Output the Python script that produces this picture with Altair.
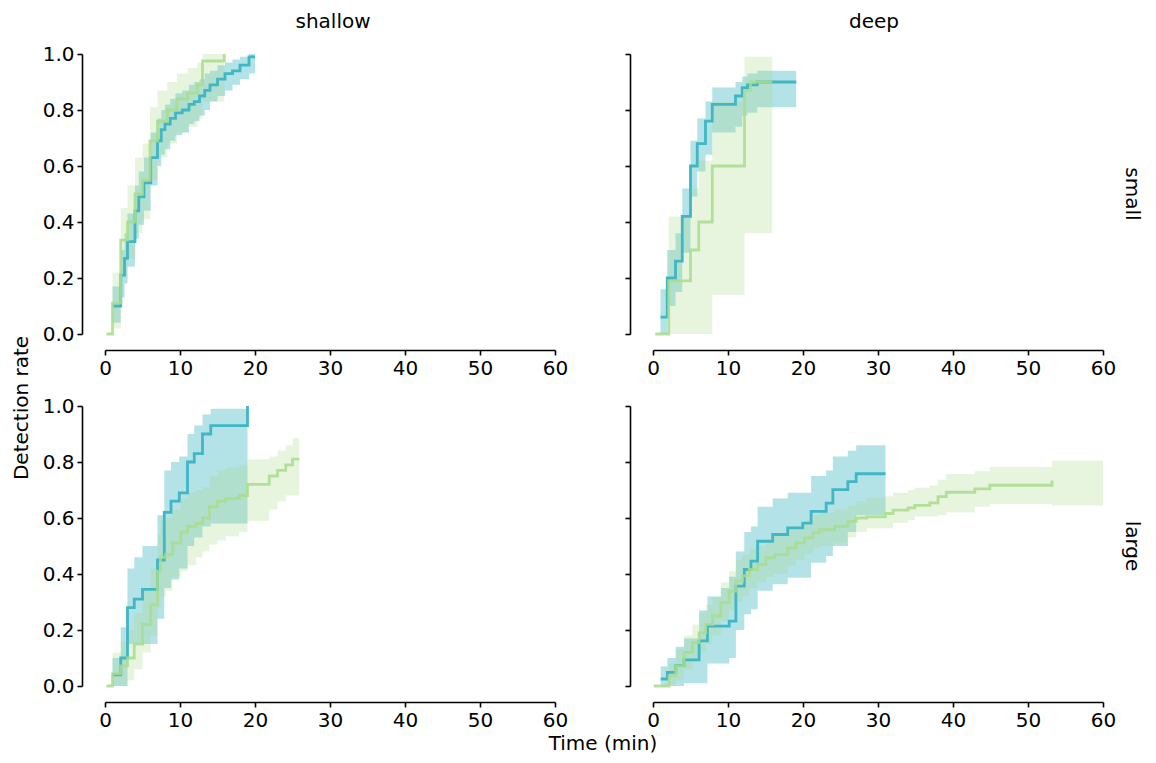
import altair as alt
import pandas as pd

FONT = "DejaVu Sans"
TEAL = "#41b6c4"
GREEN = "#a9dc8c"

# ---------------- data ----------------
# shallow / small
ss_teal_t = [1.0, 2.1, 2.6, 3.0, 4.0, 4.5, 5.2, 6.1, 7.0, 7.5, 8.0, 8.7, 9.4, 10.3, 11.2, 11.9, 12.6, 13.3, 14.0, 15.0, 16.0, 17.0, 18.0, 19.2, 20.0]
ss_teal_est = [0.10, 0.21, 0.27, 0.33, 0.44, 0.49, 0.54, 0.63, 0.69, 0.73, 0.75, 0.77, 0.79, 0.80, 0.82, 0.83, 0.85, 0.87, 0.89, 0.91, 0.93, 0.94, 0.96, 0.99, 0.99]
ss_teal_lo = [0.04, 0.13, 0.18, 0.24, 0.34, 0.39, 0.44, 0.53, 0.60, 0.64, 0.66, 0.69, 0.71, 0.72, 0.75, 0.76, 0.78, 0.80, 0.83, 0.85, 0.87, 0.89, 0.91, 0.93, 0.93]
ss_teal_hi = [0.17, 0.30, 0.36, 0.43, 0.53, 0.58, 0.63, 0.72, 0.77, 0.80, 0.82, 0.84, 0.86, 0.87, 0.89, 0.90, 0.91, 0.93, 0.94, 0.96, 0.97, 0.98, 0.99, 1.0, 1.0]
ss_green_t = [0.2, 1.0, 2.1, 3.0, 4.0, 5.0, 6.0, 7.0, 8.3, 9.6, 11.0, 12.3, 13.0, 15.9]
ss_green_est = [0.0, 0.11, 0.335, 0.40, 0.50, 0.55, 0.69, 0.76, 0.80, 0.84, 0.86, 0.89, 0.975, 1.0]
ss_green_lo = [0.0, 0.02, 0.20, 0.27, 0.36, 0.41, 0.55, 0.63, 0.68, 0.72, 0.74, 0.77, 0.83, 0.83]
ss_green_hi = [0.0, 0.22, 0.45, 0.53, 0.63, 0.68, 0.81, 0.87, 0.90, 0.93, 0.95, 0.97, 1.0, 1.0]

# deep / small
ds_teal_t = [1.0, 1.9, 3.0, 3.9, 5.0, 5.9, 7.0, 7.9, 11.0, 11.9, 12.6, 13.9, 19.1]
ds_teal_est = [0.06, 0.20, 0.26, 0.42, 0.60, 0.68, 0.76, 0.82, 0.85, 0.88, 0.89, 0.90, 0.90]
ds_teal_lo = [0.0, 0.10, 0.15, 0.29, 0.49, 0.58, 0.64, 0.72, 0.74, 0.78, 0.79, 0.81, 0.81]
ds_teal_hi = [0.16, 0.30, 0.36, 0.52, 0.69, 0.77, 0.83, 0.88, 0.90, 0.92, 0.93, 0.94, 0.94]
ds_green_t = [0.3, 2.1, 5.0, 6.1, 7.9, 12.2, 13.0, 15.9]
ds_green_est = [0.0, 0.19, 0.30, 0.40, 0.60, 0.87, 0.90, 0.90]
ds_green_lo = [0.0, 0.0, 0.0, 0.0, 0.14, 0.36, 0.36, 0.36]
ds_green_hi = [0.0, 0.42, 0.52, 0.62, 0.83, 0.99, 0.99, 0.99]

# shallow / large
sl_teal_t = [1.0, 2.1, 3.0, 3.9, 5.0, 7.0, 7.9, 8.8, 9.9, 11.0, 11.9, 13.0, 14.1, 19.0]
sl_teal_est = [0.04, 0.10, 0.28, 0.31, 0.345, 0.45, 0.62, 0.66, 0.69, 0.80, 0.83, 0.90, 0.93, 1.0]
sl_teal_lo = [0.0, 0.0, 0.15, 0.15, 0.15, 0.24, 0.35, 0.38, 0.42, 0.50, 0.53, 0.57, 0.58, 0.58]
sl_teal_hi = [0.10, 0.21, 0.42, 0.46, 0.50, 0.61, 0.77, 0.80, 0.82, 0.90, 0.93, 0.97, 0.99, 0.99]
sl_green_t = [0.2, 1.0, 2.1, 3.0, 3.9, 5.0, 6.1, 7.0, 7.4, 8.1, 9.0, 10.1, 11.0, 12.1, 13.0, 13.9, 15.0, 16.1, 17.9, 19.0, 21.9, 23.0, 24.1, 25.0, 25.9]
sl_green_est = [0.0, 0.043, 0.072, 0.10, 0.15, 0.22, 0.29, 0.41, 0.46, 0.47, 0.51, 0.55, 0.57, 0.58, 0.60, 0.64, 0.66, 0.67, 0.68, 0.72, 0.75, 0.77, 0.79, 0.81, 0.81]
sl_green_lo = [0.0, 0.0, 0.0, 0.02, 0.06, 0.12, 0.18, 0.28, 0.32, 0.34, 0.39, 0.41, 0.43, 0.46, 0.48, 0.505, 0.52, 0.535, 0.55, 0.59, 0.63, 0.66, 0.68, 0.68, 0.68]
sl_green_hi = [0.0, 0.12, 0.16, 0.20, 0.26, 0.34, 0.42, 0.54, 0.59, 0.60, 0.63, 0.67, 0.69, 0.70, 0.71, 0.75, 0.77, 0.78, 0.79, 0.81, 0.82, 0.84, 0.86, 0.885, 0.885]

# deep / large
dl_teal_t = [1.03, 1.92, 3.03, 4.14, 6.15, 7.26, 9.05, 10.16, 11.05, 12.17, 13.06, 13.95, 15.96, 17.96, 19.97, 21.08, 23.09, 23.98, 25.98, 27.09, 31.0]
dl_teal_est = [0.025, 0.049, 0.073, 0.093, 0.161, 0.214, 0.214, 0.232, 0.357, 0.416, 0.446, 0.517, 0.541, 0.565, 0.582, 0.624, 0.653, 0.701, 0.73, 0.758, 0.758]
dl_teal_lo = [0.0, 0.0, 0.0, 0.01, 0.01, 0.08, 0.08, 0.10, 0.20, 0.256, 0.274, 0.34, 0.363, 0.387, 0.387, 0.44, 0.464, 0.50, 0.55, 0.61, 0.61]
dl_teal_hi = [0.07, 0.10, 0.14, 0.17, 0.27, 0.32, 0.35, 0.39, 0.48, 0.55, 0.57, 0.64, 0.67, 0.69, 0.69, 0.75, 0.77, 0.82, 0.84, 0.86, 0.86]
dl_green_t = [0.1, 2.14, 3.03, 4.14, 5.26, 6.15, 7.04, 7.93, 9.05, 10.16, 11.05, 11.94, 12.84, 13.95, 15.07, 16.18, 17.96, 19.07, 20.19, 21.3, 22.19, 24.2, 25.98, 27.09, 28.5, 31.0, 32.0, 34.0, 34.9, 36.9, 38.0, 39.1, 42.9, 44.9, 53.2, 60.0]
dl_green_est = [0.0, 0.036, 0.072, 0.12, 0.155, 0.19, 0.22, 0.25, 0.298, 0.339, 0.375, 0.393, 0.416, 0.434, 0.458, 0.47, 0.493, 0.511, 0.529, 0.547, 0.558, 0.57, 0.588, 0.60, 0.604, 0.616, 0.628, 0.636, 0.645, 0.654, 0.676, 0.692, 0.704, 0.717, 0.734, None]
dl_green_lo = [0.0, 0.0, 0.02, 0.06, 0.09, 0.12, 0.15, 0.18, 0.23, 0.27, 0.30, 0.32, 0.35, 0.37, 0.39, 0.40, 0.43, 0.45, 0.47, 0.49, 0.50, 0.51, 0.53, 0.55, 0.563, 0.563, 0.583, 0.593, 0.605, 0.605, 0.61, 0.62, 0.64, 0.65, 0.645, 0.645]
dl_green_hi = [0.0, 0.08, 0.13, 0.18, 0.22, 0.26, 0.29, 0.32, 0.37, 0.41, 0.45, 0.47, 0.49, 0.50, 0.52, 0.54, 0.56, 0.57, 0.59, 0.61, 0.62, 0.63, 0.645, 0.66, 0.672, 0.678, 0.69, 0.70, 0.708, 0.716, 0.737, 0.757, 0.767, 0.782, 0.805, 0.805]

x_ticks = [0, 10, 20, 30, 40, 50, 60]
y_ticks = [0.0, 0.2, 0.4, 0.6, 0.8, 1.0]
col_labels = ["shallow", "deep"]
row_labels = ["small", "large"]
x_title = "Time (min)"
y_title = "Detection rate"

W, H = 450, 280


def series_df(t, est, lo, hi):
    return pd.DataFrame({"t": t, "est": est, "lo": lo, "hi": hi})


def label_layer(text, x, y, angle=0, baseline="middle", size=20):
    return alt.Chart(pd.DataFrame({"label": [text]})).mark_text(
        font=FONT, fontSize=size, color="black", angle=angle,
        baseline=baseline, align="center"
    ).encode(x=alt.value(x), y=alt.value(y), text="label:N")


def panel(teal, green, show_labels, extra):
    xenc = alt.X("t:Q", scale=alt.Scale(domain=[0, 60], nice=False, zero=False),
                 axis=alt.Axis(values=x_ticks, title=None, offset=16,
                               labelFlush=False, format="d"))

    def yenc(field):
        return alt.Y(f"{field}:Q", scale=alt.Scale(domain=[0, 1], nice=False),
                     axis=alt.Axis(values=y_ticks, title=None, offset=23,
                                   labels=show_labels, format=".1f",
                                   labelFlush=False))

    tdf = series_df(*teal)
    gdf = series_df(*green)
    tb = alt.Chart(tdf).mark_area(interpolate="step-after", color=TEAL, opacity=0.4).encode(
        x=xenc, y=yenc("lo"), y2="hi:Q")
    gb = alt.Chart(gdf).mark_area(interpolate="step-after", color=GREEN, opacity=0.28).encode(
        x=xenc, y=yenc("lo"), y2="hi:Q")
    tl = alt.Chart(tdf).mark_line(interpolate="step-after", color=TEAL, strokeWidth=2.8).encode(
        x=xenc, y=yenc("est"))
    gl = alt.Chart(gdf).mark_line(interpolate="step-after", color=GREEN, strokeWidth=2.8,
                                  opacity=0.85).encode(x=xenc, y=yenc("est"))
    return alt.layer(tb, gb, tl, gl, *extra).properties(width=W, height=H)


p_ss = panel((ss_teal_t, ss_teal_est, ss_teal_lo, ss_teal_hi),
             (ss_green_t, ss_green_est, ss_green_lo, ss_green_hi), True,
             [label_layer(col_labels[0], 228, -26, baseline="alphabetic")])
p_ds = panel((ds_teal_t, ds_teal_est, ds_teal_lo, ds_teal_hi),
             (ds_green_t, ds_green_est, ds_green_lo, ds_green_hi), False,
             [label_layer(col_labels[1], 221, -26, baseline="alphabetic"),
              label_layer(row_labels[0], 479, 140, angle=90)])
p_sl = panel((sl_teal_t, sl_teal_est, sl_teal_lo, sl_teal_hi),
             (sl_green_t, sl_green_est, sl_green_lo, sl_green_hi), True,
             [label_layer(y_title, -83, 2, angle=270),
              label_layer(x_title, 498, 338)])
p_dl = panel((dl_teal_t, dl_teal_est, dl_teal_lo, dl_teal_hi),
             (dl_green_t, dl_green_est, dl_green_lo, dl_green_hi), False,
             [label_layer(row_labels[1], 479, 140, angle=90)])

chart = alt.concat(
    p_ss, p_ds, p_sl, p_dl, columns=2,
    spacing={"row": 72, "column": 98}, bounds="flush",
    padding={"left": 3, "top": 4, "right": 3, "bottom": 0},
).configure_view(stroke=None).configure_axis(
    grid=False, domainColor="black", domainWidth=1.6, tickColor="black",
    tickWidth=1.6, tickSize=5, labelFont=FONT, labelFontSize=20,
    labelColor="black", labelPadding=3,
)

chart.save("out.html", embed_options={"renderer": "svg", "actions": False})
